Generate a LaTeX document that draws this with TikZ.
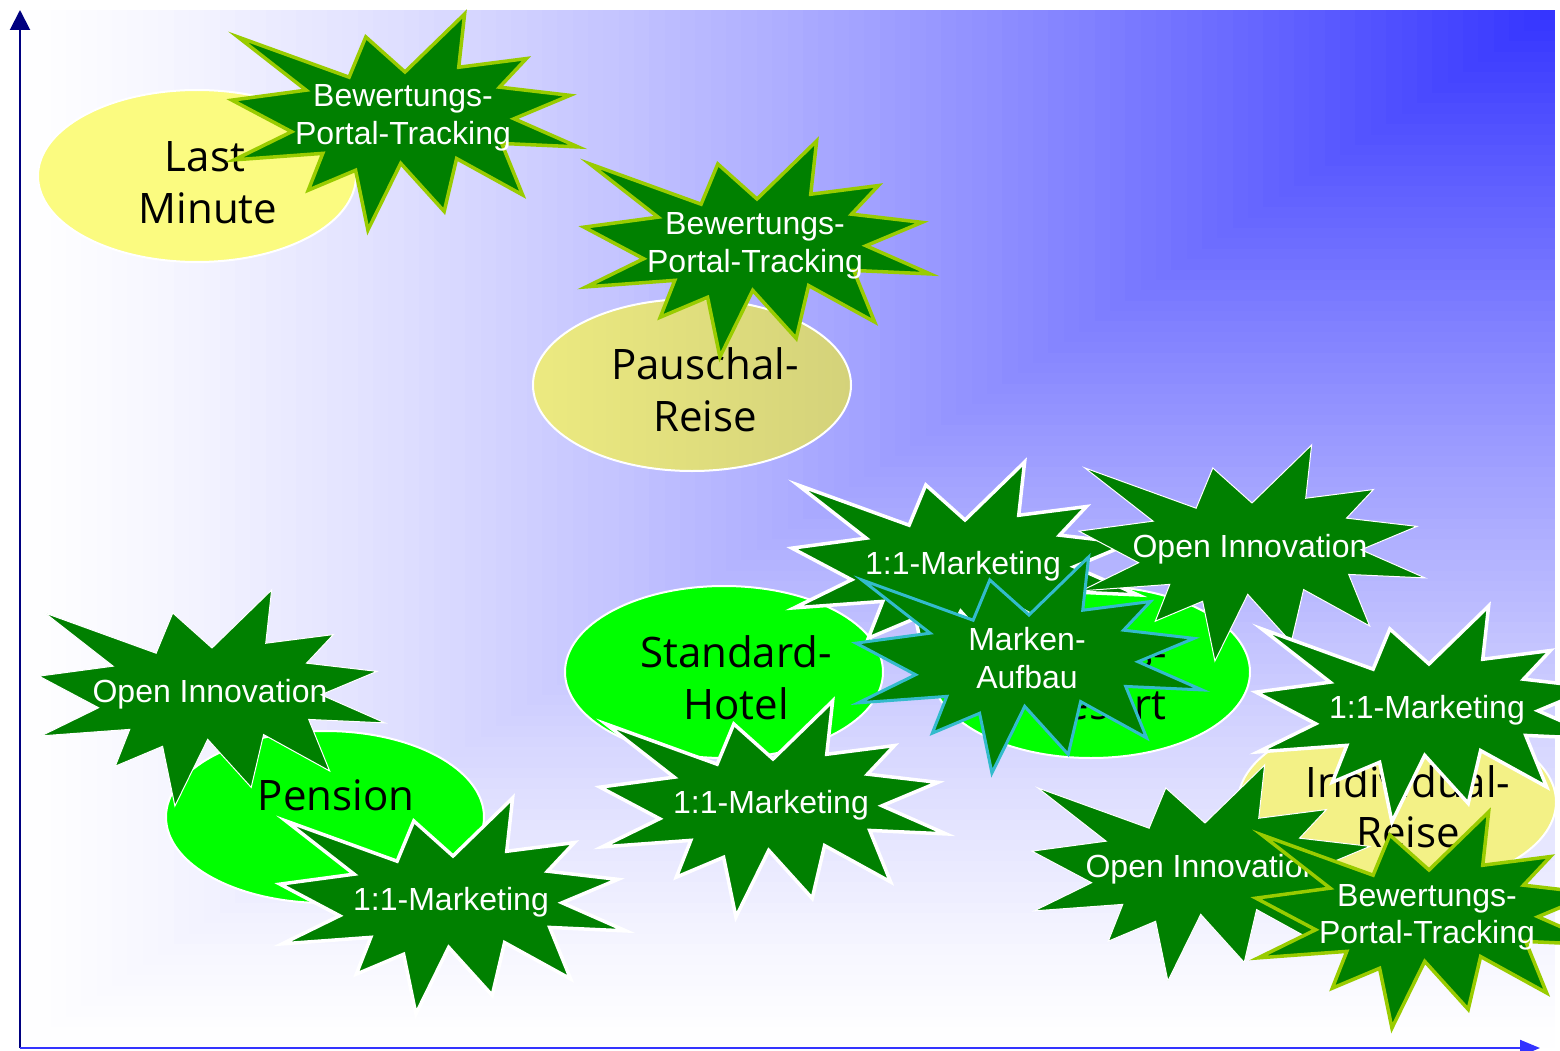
\documentclass[tikz,border=0pt]{standalone}
\usepackage{fontspec}
\setmainfont{Liberation Sans}
\newfontfamily\labelfont{Open Sans}
\usetikzlibrary{shapes.geometric,arrows.meta}

\definecolor{burstgreen}{HTML}{008000}
\definecolor{limeline}{HTML}{99CC00}
\definecolor{tealline}{HTML}{33BBCC}
\definecolor{brightgreen}{HTML}{00FF00}
\definecolor{lightyellow}{HTML}{FBFB80}
\definecolor{khakileft}{HTML}{ECEA80}
\definecolor{khakiright}{HTML}{D4D27A}
\definecolor{paleyellow}{HTML}{F3F186}
\definecolor{axisnavy}{HTML}{000080}
\definecolor{axisblue}{HTML}{3333FF}

% explosion outline in a 100 x 100 box, scaled to 346 x 216
\newcommand\burst[3]{% #1 = left, #2 = top, #3 = style
  \begin{scope}[shift={(#1,#2)}, xscale=3.46, yscale=2.16]
    \path[#3] (50.00,26.85) -- (67.23,0) -- (65.53,24.65) -- (85.09,20.63)
      -- (77.32,33.87) -- (97.67,37.67) -- (81.51,48.50) -- (100,61.53)
      -- (77.95,59.92) -- (84.00,83.77) -- (64.91,66.93) -- (61.33,91.38)
      -- (48.76,69.14) -- (39.28,100) -- (35.72,72.35) -- (22.05,81.56)
      -- (26.24,64.52) -- (0.63,67.53) -- (17.23,54.51) -- (0,39.88)
      -- (21.42,35.26) -- (1.71,10.63) -- (33.85,29.26) -- (38.67,10.63)
      -- cycle;
  \end{scope}}

\tikzset{
  bursttext/.style={text=white, font=\fontsize{32}{38}\selectfont, inner sep=0pt, anchor=base},
  elltext/.style={text=black, font=\labelfont\fontsize{42}{52}\selectfont, inner sep=0pt, anchor=base},
  oval/.style={ellipse, draw=white, line width=2pt, minimum width=318pt, minimum height=172pt, inner sep=0pt},
  limeburst/.style={fill=burstgreen, draw=limeline, line width=3.5pt},
  whiteburst/.style={fill=burstgreen, draw=white, line width=3.5pt},
  thinburst/.style={fill=burstgreen, draw=white, line width=1pt},
  tealburst/.style={fill=burstgreen, draw=tealline, line width=3pt},
}

\begin{document}
\begin{tikzpicture}[x=1pt, y=-1pt]
\useasboundingbox (0,0) rectangle (1560,1051);
\fill[white] (0,0) rectangle (1560,1051);

% rectangular gradient growing from the top right corner
\foreach \i in {100,99,...,1}{
  \pgfmathsetmacro\t{\i/100}
  \pgfmathtruncatemacro\v{min(255,255-204*(max(1-\t,0.001))^1.3)}
  \definecolor{bgshade}{RGB}{\v,\v,255}
  \fill[bgshade] ({1555-1535*\t},10) rectangle (1555,{10+1038*\t});
}

% axes
\coordinate (origin) at (20,1048);
\coordinate (ytop) at (20,10);
\coordinate (xend) at (1540,1048);
\draw[axisnavy, line width=2pt, -{Triangle[length=20pt,width=20pt]}] (origin) -- (ytop);
\draw[axisblue, line width=2pt, -{Triangle[length=20pt,width=16pt]}] (origin) -- (xend);

% market segments
\node[oval, fill=lightyellow] (lastminute) at (197,176) {};
\node[elltext] (lm1) at (205,172) {Last};
\node[elltext] (lm2) at (208,223) {Minute};

\node[oval, left color=khakileft, right color=khakiright] (pauschal) at (692,385) {};
\node[elltext] (pr1) at (705,379) {Pauschal-};
\node[elltext] (pr2) at (705,431) {Reise};

\node[oval, fill=brightgreen] (standard) at (724,672) {};
\node[elltext] (sh1) at (736,667) {Standard-};
\node[elltext] (sh2) at (736,719) {Hotel};

\node[oval, fill=brightgreen] (pension) at (325,817) {};
\node[elltext] (pe1) at (336,810) {Pension};

\node[oval, fill=brightgreen] (resort) at (1091,672) {};
\node[elltext] (lr1) at (1103,667) {Luxus-};
\node[elltext] (lr2) at (1103,719) {Resort};

\node[oval, fill=paleyellow] (individual) at (1397,802) {};
\node[elltext] (ir1) at (1408,797) {Individual-};
\node[elltext] (ir2) at (1408,847) {Reise};

% measures
\burst{232}{14}{limeburst}
\node[bursttext] (a1) at (403,107) {Bewertungs-};
\node[bursttext] (a2) at (403,145) {Portal-Tracking};

\burst{584}{141}{limeburst}
\node[bursttext] (b1) at (755,234) {Bewertungs-};
\node[bursttext] (b2) at (755,272) {Portal-Tracking};

\burst{39}{590}{thinburst}
\node[bursttext] (c1) at (210,702) {Open Innovation};

\burst{280}{798}{whiteburst}
\node[bursttext] (d1) at (451,910) {1:1-Marketing};

\burst{600}{701}{whiteburst}
\node[bursttext] (e1) at (771,813) {1:1-Marketing};

\burst{792}{462}{whiteburst}
\node[bursttext] (f1) at (963,574) {1:1-Marketing};

\burst{1079}{445}{thinburst}
\node[bursttext] (g1) at (1250,557) {Open Innovation};

\burst{1032}{765}{thinburst}
\node[bursttext] (j1) at (1203,877) {Open Innovation};

\burst{1256}{606}{whiteburst}
\node[bursttext] (i1) at (1427,718) {1:1-Marketing};

\burst{1256}{812}{limeburst}
\node[bursttext] (k1) at (1427,906) {Bewertungs-};
\node[bursttext] (k2) at (1427,943) {Portal-Tracking};

\burst{856}{557}{tealburst}
\node[bursttext] (h1) at (1027,650) {Marken-};
\node[bursttext] (h2) at (1027,688) {Aufbau};
\end{tikzpicture}
\end{document}
